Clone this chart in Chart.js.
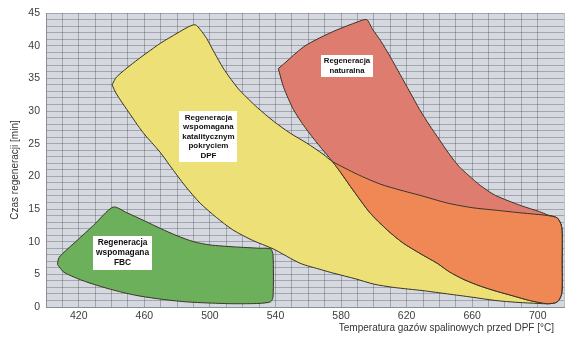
<!DOCTYPE html>
<html>
<head>
<meta charset="utf-8">
<style>
  html, body { margin: 0; padding: 0; background: #fff; }
</style>
<script src="https://cdn.jsdelivr.net/npm/chart.js@4.4.1/dist/chart.umd.min.js"></script>
</head>
<body>
<canvas id="chart" width="580" height="341"></canvas>
<script>
// osie
const xTickLabels = [420, 460, 500, 540, 580, 620, 660, 700];
const yTickLabels = [0, 5, 10, 15, 20, 25, 30, 35, 40, 45];

// obszary: temperatura [°C] / czas [min], obrys zamknięty
const fbcTemp = [407, 408, 419, 429, 441, 449.5, 460, 470, 480, 490, 500, 515, 530, 537, 538.5, 538.5, 537, 530, 515, 500, 485, 470, 454.5, 439.5, 424, 411, 407];
const fbcTime = [6.5, 7.6, 10.2, 12.5, 15.3, 14.4, 13.2, 12.0, 10.9, 10.0, 9.5, 9.2, 9.0, 8.9, 8.0, 1.5, 0.8, 0.55, 0.5, 0.6, 0.8, 1.2, 1.8, 2.7, 3.9, 5.3, 6.5];

const katTemp = [440.3, 443, 453, 461, 470, 480, 487, 491, 494, 498, 503, 508, 513, 518, 524, 529, 539, 549, 559, 569, 575, 590, 604, 616, 628, 645, 660, 675, 690, 706, 712, 714.6, 714.8, 714.6, 712, 706, 700, 688, 674, 660, 645, 630, 612, 600, 589, 575, 568, 555, 538.5, 526, 514, 504, 494, 485, 475.7, 469.6, 459.2, 449.4, 443, 440.3];
const katTime = [34.0, 35.2, 37.3, 38.8, 40.4, 41.9, 42.9, 43.2, 42.5, 41.1, 38.8, 36.6, 34.8, 33.2, 31.7, 30.5, 28.4, 26.6, 25.1, 23.4, 22.2, 20.3, 18.8, 17.9, 17.1, 15.9, 15.2, 14.8, 14.4, 14.0, 13.6, 12.2, 7.0, 2.1, 0.8, 0.5, 0.55, 0.7, 1.0, 1.5, 2.0, 2.5, 3.0, 3.5, 4.3, 5.2, 5.7, 6.7, 8.9, 10.2, 11.8, 13.7, 15.9, 18.5, 21.6, 23.7, 26.7, 30.2, 32.6, 34.0];

const natTemp = [541.7, 545, 557, 567, 577.3, 589.7, 595.6, 599, 604, 610, 616, 622, 628, 634, 640, 646, 652, 658, 665, 674, 690, 701, 706, 712, 714.6, 714.8, 714.6, 712, 706, 695, 685, 675, 665, 655, 646, 638.6, 628.2, 617.8, 608.1, 597.7, 587.3, 580, 575, 566, 558, 551, 545, 541.7];
const natTime = [36.5, 37.2, 39.8, 41.2, 42.4, 43.6, 44.0, 42.6, 40.8, 38.3, 35.6, 32.9, 30.2, 27.8, 25.6, 23.4, 21.5, 20.1, 18.6, 17.1, 15.5, 14.6, 14.1, 13.6, 12.2, 7.0, 2.1, 0.8, 0.5, 1.0, 1.7, 2.4, 3.2, 4.2, 5.4, 6.7, 8.2, 9.8, 11.8, 14.4, 17.9, 20.5, 22.2, 24.9, 27.5, 30.2, 33.6, 36.5];

// część wspólna (katalityczna + naturalna)
const overlapTemp = [575, 590, 604, 616, 628, 645, 660, 675, 690, 706, 712, 714.6, 714.8, 714.6, 712, 706, 695, 685, 675, 665, 655, 646, 638.6, 628.2, 617.8, 608.1, 597.7, 587.3, 580, 575];
const overlapTime = [22.2, 20.3, 18.8, 17.9, 17.1, 15.9, 15.2, 14.8, 14.4, 14.0, 13.6, 12.2, 7.0, 2.1, 0.8, 0.5, 1.0, 1.7, 2.4, 3.2, 4.2, 5.4, 6.7, 8.2, 9.8, 11.8, 14.4, 17.9, 20.5, 22.2];

// opisy obszarów
const labelLines = [
  ["Regeneracja", "wspomagana", "FBC"],
  ["Regeneracja", "wspomagana", "katalitycznym", "pokryciem", "DPF"],
  ["Regeneracja", "naturalna"]
];
const labelTemp = [446.7, 499.1, 583.6];
const labelTime = [8.3, 26.1, 36.9];
const labelSizes = [8.4, 8.0, 7.8];

const toPoints = (xs, ys) => xs.map((v, i) => ({ x: v, y: ys[i] }));

const region = (points, color, order) => ({
  data: points,
  showLine: true,
  fill: 'shape',
  backgroundColor: color,
  borderColor: '#3a3428',
  borderWidth: 1,
  pointRadius: 0,
  tension: 0.25,
  order: order,
});

const plotBackground = {
  id: 'plotBackground',
  beforeDraw(chart) {
    const { ctx, chartArea: a } = chart;
    ctx.save();
    ctx.fillStyle = '#d5d9df';
    ctx.fillRect(a.left, a.top, a.right - a.left, a.bottom - a.top);
    ctx.restore();
  }
};

const regionLabels = {
  id: 'regionLabels',
  afterDraw(chart) {
    const { ctx, scales: { x, y } } = chart;
    ctx.save();
    labelLines.forEach((lines, i) => {
      const size = labelSizes[i];
      const lh = size * 1.18;
      ctx.font = `bold ${size}px Arial, "Liberation Sans", sans-serif`;
      const w = Math.max(...lines.map(l => ctx.measureText(l).width)) + 6;
      const h = lines.length * lh + 4;
      const cx = x.getPixelForValue(labelTemp[i]);
      const cy = y.getPixelForValue(labelTime[i]);
      ctx.fillStyle = '#ffffff';
      ctx.fillRect(Math.round(cx - w / 2), Math.round(cy - h / 2), Math.round(w), Math.round(h));
      ctx.fillStyle = '#111111';
      ctx.textAlign = 'center';
      ctx.textBaseline = 'middle';
      lines.forEach((l, k) => ctx.fillText(l, cx, cy - h / 2 + 2 + lh * (k + 0.5)));
    });
    ctx.restore();
  }
};

const gridColor = 'rgba(55, 60, 70, 0.32)';
const tickFont = { family: 'Arial, "Liberation Sans", sans-serif', size: 10.5 };

new Chart(document.getElementById('chart'), {
  type: 'scatter',
  data: {
    datasets: [
      region(toPoints(fbcTemp, fbcTime), 'rgb(108, 176, 92)', 3),
      region(toPoints(katTemp, katTime), 'rgb(236, 224, 118)', 2),
      region(toPoints(natTemp, natTime), 'rgb(222, 124, 112)', 1),
      region(toPoints(overlapTemp, overlapTime), 'rgb(240, 136, 86)', 0),
    ]
  },
  options: {
    responsive: false,
    animation: false,
    events: [],
    layout: { padding: { top: 13, right: 16, bottom: 0, left: 0 } },
    plugins: {
      legend: { display: false },
      tooltip: { enabled: false },
    },
    scales: {
      x: {
        type: 'linear',
        min: 400,
        max: 716,
        z: 1,
        afterFit(s) { s.height = 34; },
        grid: { color: gridColor, lineWidth: 1, drawTicks: false },
        border: { display: true, color: '#8a8f96' },
        ticks: {
          stepSize: 10,
          autoSkip: false,
          maxRotation: 0,
          padding: 3,
          color: '#3c3c3c',
          font: tickFont,
          callback: v => xTickLabels.includes(v) ? String(v) : '',
        },
        title: {
          display: true,
          text: 'Temperatura gazów spalinowych przed DPF [°C]\u2002\u2002',
          align: 'end',
          color: '#333333',
          font: { family: 'Arial, "Liberation Sans", sans-serif', size: 10 },
          padding: { top: 0, bottom: 7 },
        },
      },
      y: {
        min: 0,
        max: 45,
        z: 1,
        afterFit(s) { s.width = 46; },
        grid: { color: gridColor, lineWidth: 1, drawTicks: false },
        border: { display: true, color: '#8a8f96' },
        ticks: {
          stepSize: 1,
          autoSkip: false,
          padding: 6,
          color: '#3c3c3c',
          font: tickFont,
          callback: v => yTickLabels.includes(v) ? String(v) : '',
        },
        title: {
          display: true,
          text: 'Czas regeneracji [min]\u2003\u2003',
          color: '#333333',
          font: { family: 'Arial, "Liberation Sans", sans-serif', size: 10 },
          padding: { top: 9, bottom: 0 },
        },
      },
    },
  },
  plugins: [plotBackground, regionLabels],
});
</script>
</body>
</html>
